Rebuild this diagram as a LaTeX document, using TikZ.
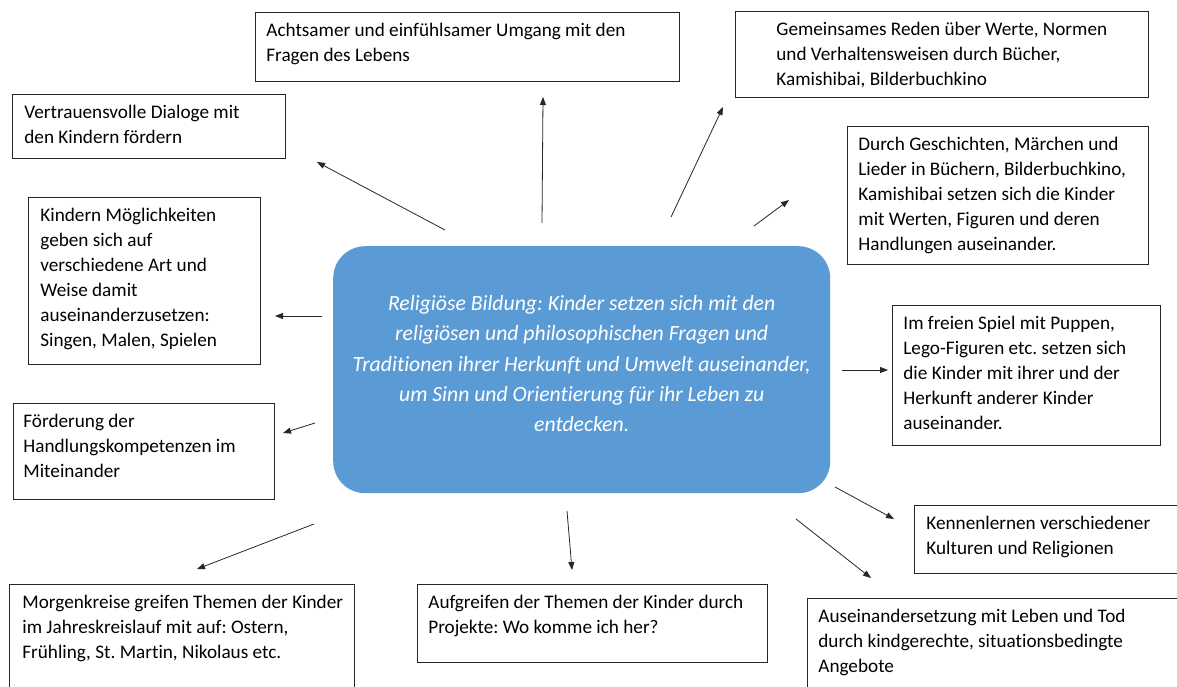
\documentclass[tikz,border=0pt]{standalone}
\usepackage{fontspec}
\setmainfont{Carlito}[Ligatures={NoCommon}]
\usetikzlibrary{arrows.meta}
\definecolor{accent}{HTML}{5B9BD5}
\definecolor{boxline}{HTML}{262626}
\frenchspacing
\newcommand{\boxtxt}[4]{\parbox[t][#2pt][t]{#1pt}{\raggedright\leftskip=#3pt\relax\rightskip=-100pt plus 1fil\relax\rule{0pt}{24pt}#4}}
\tikzset{
 infobox/.style={draw=boxline, line width=0.8pt, inner sep=0pt, anchor=north west, font=\fontsize{19.2}{25}\selectfont},
 core/.style={fill=accent, rounded corners=32pt, inner sep=0pt, anchor=north west, text=white, font=\fontsize{21.7}{30.2}\selectfont\itshape},
 link/.style={draw=black!85, line width=0.8pt, -{Triangle[length=8pt,width=6pt]}},
}
\begin{document}
\begin{tikzpicture}[x=1pt,y=-1pt]
\useasboundingbox (0,0) rectangle (1177,686);
\clip (0,0) rectangle (1177,686);
\fill[white] (0,0) rectangle (1177,686);

% boxes
\node[infobox] (achts) at (255,12) {\boxtxt{424}{69}{11}{Achtsamer und einfühlsamer Umgang mit den\\Fragen des Lebens}};
\node[infobox] (gemein) at (735,11) {\boxtxt{413}{86}{41}{Gemeinsames Reden über Werte, Normen\\und Verhaltensweisen durch Bücher,\\Kamishibai, Bilderbuchkino}};
\node[infobox] (vertrau) at (12,94) {\boxtxt{273}{64}{12}{Vertrauensvolle Dialoge mit\\den Kindern fördern}};
\node[infobox] (durch) at (847,126) {\boxtxt{301}{138}{11}{Durch Geschichten, Märchen und\\Lieder in Büchern, Bilderbuchkino,\\Kamishibai setzen sich die Kinder\\mit Werten, Figuren und deren\\Handlungen auseinander.}};
\node[infobox] (kindern) at (28,197) {\boxtxt{232}{167}{12}{Kindern Möglichkeiten\\geben sich auf\\verschiedene Art und\\Weise damit\\auseinanderzusetzen:\\Singen, Malen, Spielen}};
\node[infobox] (freien) at (892,305) {\boxtxt{268}{140}{11}{Im freien Spiel mit Puppen,\\Lego-Figuren etc. setzen sich\\die Kinder mit ihrer und der\\Herkunft anderer Kinder\\auseinander.}};
\node[infobox] (foerder) at (13,403) {\boxtxt{261}{96}{10}{Förderung der\\Handlungskompetenzen im\\Miteinander}};
\node[infobox] (kennen) at (914,505) {\boxtxt{280}{68}{12}{Kennenlernen verschiedener\\Kulturen und Religionen}};
\node[infobox] (morgen) at (9,584) {\boxtxt{345}{130}{13}{Morgenkreise greifen Themen der Kinder\\im Jahreskreislauf mit auf: Ostern,\\Frühling, St. Martin, Nikolaus etc.}};
\node[infobox] (aufgr) at (417,584) {\boxtxt{350}{78}{11}{Aufgreifen der Themen der Kinder durch\\Projekte: Wo komme ich her?}};
\node[infobox] (ausein) at (807,598) {\boxtxt{390}{120}{11}{Auseinandersetzung mit Leben und Tod\\durch kindgerechte, situationsbedingte\\Angebote}};

% centre
\node[core] (core) at (333,246) {\parbox[c][247pt][c]{497pt}{\centering Religiöse Bildung: Kinder setzen sich mit den\\religiösen und philosophischen Fragen und\\Traditionen ihrer Herkunft und Umwelt auseinander,\\um Sinn und Orientierung für ihr Leben zu\\entdecken.\par\vspace{12pt}}};

% arrow ends
\coordinate (t1) at (445,230); \coordinate (h1) at (317,162);
\coordinate (t2) at (542,223); \coordinate (h2) at (543,97);
\coordinate (t3) at (671,217); \coordinate (h3) at (723,107);
\coordinate (t4) at (754,226); \coordinate (h4) at (789,200);
\coordinate (t5) at (322,316); \coordinate (h5) at (275,316);
\coordinate (t6) at (842,370); \coordinate (h6) at (888,370);
\coordinate (t7) at (315,423); \coordinate (h7) at (283,433);
\coordinate (t8) at (835,487); \coordinate (h8) at (894,519);
\coordinate (t9) at (796,519); \coordinate (h9) at (871,578);
\coordinate (t10) at (314,524); \coordinate (h10) at (197,569);
\coordinate (t11) at (567,511); \coordinate (h11) at (572,570);

\draw[link] (t1) -- (h1);
\draw[link] (t2) -- (h2);
\draw[link] (t3) -- (h3);
\draw[link] (t4) -- (h4);
\draw[link] (t5) -- (h5);
\draw[link] (t6) -- (h6);
\draw[link] (t7) -- (h7);
\draw[link] (t8) -- (h8);
\draw[link] (t9) -- (h9);
\draw[link] (t10) -- (h10);
\draw[link] (t11) -- (h11);
\end{tikzpicture}
\end{document}
